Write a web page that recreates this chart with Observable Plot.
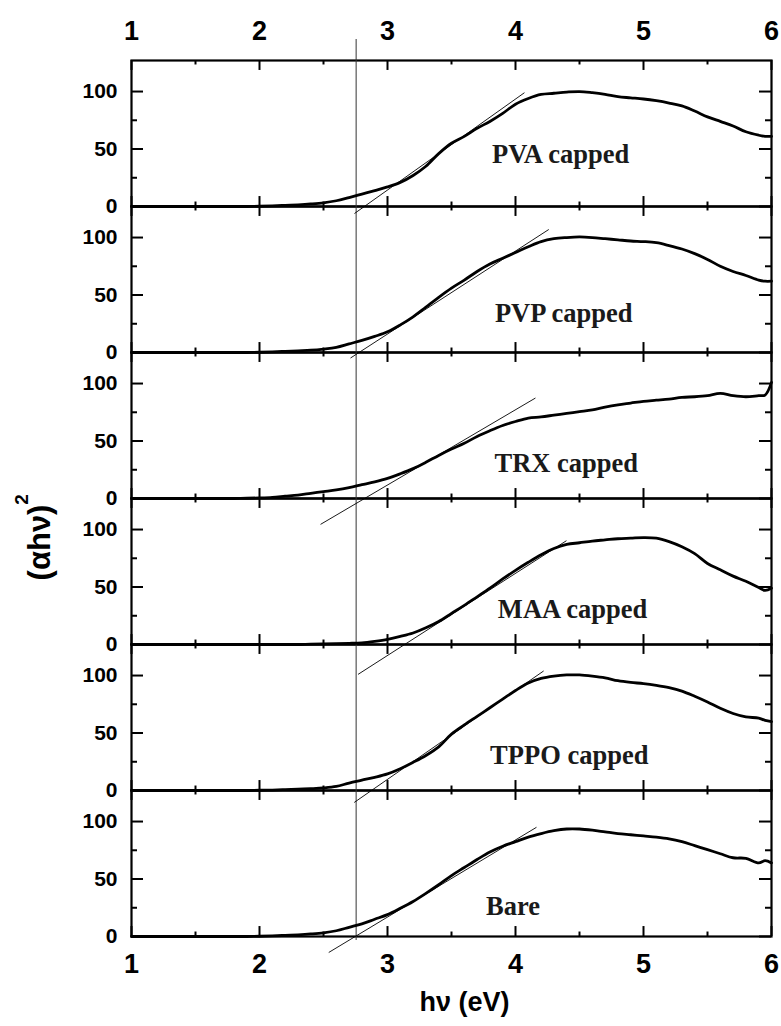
<!DOCTYPE html>
<html>
<head>
<meta charset="utf-8">
<script src="https://cdn.jsdelivr.net/npm/d3@7"></script>
<script src="https://cdn.jsdelivr.net/npm/@observablehq/plot@0.6"></script>
<style>
  html, body { margin: 0; padding: 0; background: white; }
  #chart svg { display: block; }
</style>
</head>
<body>
<div id="chart"></div>
<script>
// ---- data ----
const panels = ["PVA capped", "PVP capped", "TRX capped", "MAA capped", "TPPO capped", "Bare"];

const hv = [1.0,1.1,1.2,1.3,1.4,1.5,1.6,1.7,1.8,1.9,
            2.0,2.1,2.2,2.3,2.4,2.5,2.6,2.7,2.8,2.9,
            3.0,3.1,3.2,3.3,3.4,3.5,3.6,3.7,3.8,3.9,
            4.0,4.1,4.2,4.3,4.4,4.5,4.6,4.7,4.8,4.9,
            5.0,5.1,5.2,5.3,5.4,5.5,5.6,5.7,5.8,5.9,5.95,6.0];

const pva  = [0,0,0,0,0,0,0,0,0,0,
              0.2,0.5,1,1.5,2.2,3.2,5,7.8,10.8,13.8,
              17,21,27,35,46,55,61,68,74,81,
              89,94,97.5,98.5,99.5,100,99,97.5,95.5,94.5,
              93.5,92,90,87.5,83,78,74,70,65,62,61,61];
const pvp  = [0,0,0,0,0,0,0,0,0,0,
              0.2,0.5,1,1.5,2,3,4.5,7.5,10.5,14,
              18,24,31,39.5,48,56,63,70.5,77,82,
              87,92,96.5,99,100,100.5,100,99,98,97,
              96.5,95.5,93,90,86,81,75,70.5,67,63,62,62];
const trx  = [0,0,0,0,0,0,0,0,0,0.2,
              0.5,1,2,3,4.5,6,7.5,9.5,12,14.5,
              17.5,21.5,26,31.5,37.5,43,48,54,59,63.5,
              67,70,71,72.5,74,75.5,77,79.5,81.5,83,
              84.5,85.5,86.5,88,88.5,89.5,91.5,89.5,88.5,89.5,90,101];
const maa  = [0,0,0,0,0,0,0,0,0,0,
              0,0,0,0,0.3,0.5,0.7,1,1.5,2.8,
              4.5,7,10,14.5,20,27,34,41.5,49,57,
              64.5,71.5,78,83.5,87,88.5,90,91,92,92.5,
              93,92.5,89.5,85,79,70.5,65,59.5,55,49.5,47,49];
const tppo = [0,0,0,0,0,0,0,0,0,0,
              0.2,0.4,0.8,1.2,1.6,2.2,3.5,6.5,9,11.5,
              14.5,19,24.5,30.5,38,49,57,64.5,72,79.5,
              87,93.5,97.5,99.5,100.5,100.5,99.5,98,95.5,94,
              93,91.5,89.5,86.5,82,77,71.5,67,64,63,61,60];
const bare = [0,0,0,0,0,0,0,0,0,0,
              0.2,0.5,1,1.5,2.2,3.2,5,8,11,15,
              19,24.5,30.5,37.5,45,53,60,67,73.5,78.5,
              82.5,86.5,89.5,92,93.5,93.5,92.5,91,89.5,88.5,
              87.5,86.5,85,82.5,79,75.5,72,68.5,68,64,66,64];
const series = [pva, pvp, trx, maa, tppo, bare];

// linear-fit (tangent) lines per panel
const tanX1 = [2.742, 2.711, 2.477, 2.77, 2.74, 2.541];
const tanY1 = [-6.1, -4.8, -22.5, -26, -10.4, -13.9];
const tanX2 = [4.07, 4.26, 4.156, 4.398, 4.22, 4.164];
const tanY2 = [99, 107, 87.4, 90.3, 104, 95];

// panel label anchors
const labelX = [4.352, 4.377, 4.397, 4.446, 4.42, 3.98];
const labelY = [37.8, 26.2, 22.8, 22.8, 22.8, 19];

// band-gap marker
const bandGap = 2.755;

// ticks
const xMajor = [1, 2, 3, 4, 5, 6];
const xMinor = [1.5, 2.5, 3.5, 4.5, 5.5];
const yMajor = [0, 50, 100];
const yMinor = [25, 75];

// ---- layout ----
const W = 781, H = 1026, ML = 131, MR = 10, MT = 58, MB = 88;
const xDom = [1, 6], yDom = [0, 127];
const FW = W - ML - MR;                      // frame width (px)
const FH = (H - MT - MB) / panels.length;    // facet height (px)
const pxX = (xDom[1] - xDom[0]) / FW;        // x units per px
const pxY = (yDom[1] - yDom[0]) / FH;        // y units per px

// ---- tables ----
const rows = [];
panels.forEach((p, i) => series[i].forEach((v, j) => rows.push({panel: p, x: hv[j], y: v})));
const tangents = panels.map((p, i) => ({panel: p, x1: tanX1[i], y1: tanY1[i], x2: tanX2[i], y2: tanY2[i]}));
const labels = panels.map((p, i) => ({panel: p, x: labelX[i], y: labelY[i], text: p}));
const topPanel = panels[0], bottomPanel = panels[panels.length - 1];
const midPanels = panels.slice(1, -1);

const tk = {stroke: "black", strokeWidth: 2};
const sans = "Liberation Sans, Arial, Helvetica, sans-serif";

// inward ticks (tick length in px converted to scale units)
const ticksTop = (vals, len) => Plot.ruleX(vals, {x: d => d, y1: () => yDom[1], y2: () => yDom[1] - len * pxY, ...tk});
const ticksBottom = (vals, len) => Plot.ruleX(vals, {x: d => d, y1: () => yDom[0], y2: () => yDom[0] + len * pxY, ...tk});
const ticksLeft = (vals, len) => Plot.ruleY(vals, {y: d => d, x1: () => xDom[0], x2: () => xDom[0] + len * pxX, ...tk});
const ticksRight = (vals, len) => Plot.ruleY(vals, {y: d => d, x1: () => xDom[1], x2: () => xDom[1] - len * pxX, ...tk});

const chart = Plot.plot({
  width: W,
  height: H,
  marginLeft: ML,
  marginRight: MR,
  marginTop: MT,
  marginBottom: MB,
  style: {fontFamily: sans, background: "white", color: "black"},
  x: {domain: xDom},
  y: {domain: yDom},
  fy: {domain: panels, padding: 0, axis: null},
  marks: [
    ticksTop(xMajor, 10), ticksTop(xMinor, 4.5),
    ticksBottom(xMajor, 10), ticksBottom(xMinor, 4.5),
    ticksLeft(yMajor, 12), ticksLeft(yMinor, 6),
    ticksRight(yMajor, 12), ticksRight(yMinor, 6),
    Plot.frame({stroke: "black", strokeWidth: 2.2}),
    // tick labels
    Plot.axisY(yMajor, {anchor: "left", tickSize: 0, tickPadding: 14, fontSize: 21, fontWeight: "bold", label: null, fill: "black", tickFormat: d => String(d)}),
    Plot.axisX(xMajor, {anchor: "top", tickSize: 0, tickPadding: 21, fontSize: 27, fontWeight: "bold", label: null, fill: "black", tickFormat: d => String(d)}),
    Plot.axisX(xMajor, {anchor: "bottom", tickSize: 0, tickPadding: 17, fontSize: 27, fontWeight: "bold", label: null, fill: "black", tickFormat: d => String(d)}),
    // band-gap vertical line
    Plot.ruleX([{panel: topPanel, x: bandGap}], {x: "x", fy: "panel", insetTop: -21, stroke: "#333", strokeWidth: 1}),
    Plot.ruleX(midPanels.map(p => ({panel: p, x: bandGap})), {x: "x", fy: "panel", stroke: "#333", strokeWidth: 1}),
    Plot.ruleX([{panel: bottomPanel, x: bandGap}], {x: "x", fy: "panel", insetBottom: -4, stroke: "#333", strokeWidth: 1}),
    // tangent lines
    Plot.link(tangents, {x1: "x1", y1: "y1", x2: "x2", y2: "y2", fy: "panel", stroke: "black", strokeWidth: 0.9}),
    // curves
    Plot.line(rows, {x: "x", y: "y", fy: "panel", z: "panel", stroke: "black", strokeWidth: 2.8, curve: "catmull-rom"}),
    // panel labels
    Plot.text(labels, {x: "x", y: "y", fy: "panel", text: "text", fontFamily: "Liberation Serif, Times New Roman, serif",
      fontWeight: "bold", fontSize: 26.5, lineAnchor: "bottom", fill: "#1a1a1a"}),
    // axis titles
    Plot.text([{panel: bottomPanel, t: "h\u03bd (eV)"}], {fy: "panel", text: "t", frameAnchor: "bottom", dx: 13, dy: 74,
      lineAnchor: "bottom", fontSize: 27, fontWeight: "bold", fill: "black"}),
    Plot.text([{panel: "TRX capped", t: "(\u03b1h\u03bd)"}], {fy: "panel", text: "t", frameAnchor: "bottom-left", dx: -91, dy: 44,
      rotate: -90, lineAnchor: "middle", textAnchor: "middle", fontSize: 31, fontWeight: "bold", fill: "black"}),
    Plot.text([{panel: "TRX capped", t: "2"}], {fy: "panel", text: "t", frameAnchor: "bottom-left", dx: -110, dy: 1,
      rotate: -90, lineAnchor: "middle", textAnchor: "middle", fontSize: 19, fontWeight: "bold", fill: "black"})
  ]
});
document.getElementById("chart").appendChild(chart);
</script>
</body>
</html>
